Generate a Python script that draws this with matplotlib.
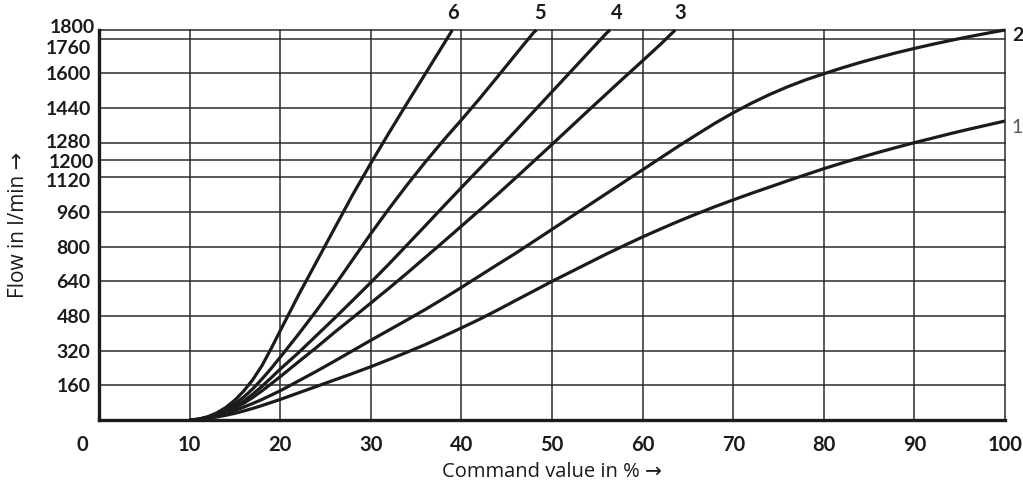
import matplotlib
matplotlib.use("Agg")
import matplotlib.pyplot as plt
import matplotlib.transforms as mtransforms

# flow curves, command value in % -> flow in l/min
x6 = [10, 11, 12, 13, 14, 15, 16, 17, 18, 19, 20, 22, 24, 26, 28, 30, 32, 34, 36, 38, 39]
y6 = [0, 4, 15, 33, 58, 92, 135, 188, 252, 330, 412, 575, 730, 885, 1040, 1185, 1325,
      1462, 1597, 1732, 1800]

x5 = [10, 11, 12, 13, 14, 15, 16, 17, 18, 19, 20, 22, 24, 26, 28, 30, 32, 34, 36, 38,
      40, 42, 44, 46, 48, 48.3]
y5 = [0, 4, 14, 29, 48, 75, 107, 145, 190, 238, 290, 395, 505, 620, 740, 860, 975,
      1085, 1190, 1290, 1385, 1483, 1585, 1688, 1790, 1800]

x4 = [10, 11, 12, 13, 14, 15, 16, 17, 18, 19, 20, 22, 24, 26, 28, 30, 32, 34, 36, 38,
      40, 42, 44, 46, 48, 50, 52, 54, 56, 56.4]
y4 = [0, 3, 12, 24, 40, 62, 88, 120, 156, 195, 235, 310, 390, 470, 552, 635, 720, 808,
      896, 985, 1073, 1160, 1247, 1335, 1425, 1515, 1605, 1695, 1785, 1800]

x3 = [10, 11, 12, 13, 14, 15, 16, 17, 18, 19, 20, 22, 24, 26, 28, 30, 32, 34, 36, 38,
      40, 42, 44, 46, 48, 50, 52, 54, 56, 58, 60, 62, 63.6]
y3 = [0, 3, 10, 21, 35, 55, 78, 105, 135, 167, 200, 268, 335, 405, 472, 540, 608, 678,
      750, 822, 895, 968, 1042, 1118, 1195, 1272, 1350, 1428, 1505, 1582, 1658, 1735, 1800]

x2 = [10, 11, 12, 13, 14, 15, 16, 17, 18, 19, 20, 22, 24, 26, 28, 30, 32, 34, 36, 38,
      40, 42, 44, 46, 48, 50, 52, 54, 56, 58, 60, 62, 64, 66, 68, 70, 72, 74, 76, 78,
      80, 82, 84, 86, 88, 90, 92, 94, 96, 98, 100]
y2 = [0, 3, 10, 19, 30, 44, 60, 77, 95, 115, 135, 180, 225, 272, 320, 368, 415, 462,
      510, 560, 612, 665, 718, 770, 825, 880, 935, 990, 1045, 1100, 1155, 1210, 1265,
      1318, 1370, 1418, 1462, 1502, 1538, 1570, 1598, 1625, 1650, 1673, 1695, 1715,
      1734, 1752, 1769, 1785, 1800]

x1 = [10, 11, 12, 13, 14, 15, 16, 17, 18, 19, 20, 22, 24, 26, 28, 30, 32, 34, 36, 38,
      40, 42, 44, 46, 48, 50, 52, 54, 56, 58, 60, 62, 64, 66, 68, 70, 72, 74, 76, 78,
      80, 82, 84, 86, 88, 90, 92, 94, 96, 98, 100]
y1 = [0, 3, 8, 14, 22, 31, 42, 54, 67, 81, 95, 125, 155, 185, 215, 246, 279, 313, 348,
      386, 425, 465, 508, 552, 596, 640, 682, 724, 766, 806, 845, 882, 918, 952, 985,
      1016, 1046, 1075, 1104, 1132, 1160, 1186, 1211, 1235, 1258, 1280, 1301, 1322,
      1342, 1361, 1380]

xticks = [0, 10, 20, 30, 40, 50, 60, 70, 80, 90, 100]
yticks = [160, 320, 480, 640, 800, 960, 1120, 1200, 1280, 1440, 1600, 1760, 1800]

num_font = ["Lato", "DejaVu Sans"]
txt_font = ["Open Sans", "DejaVu Sans"]
ink = "#1c1a1a"

fig = plt.figure(figsize=(10.23, 4.88), dpi=100)
ax = fig.add_axes([0.0968, 0.1393, 0.8856, 0.7992])
ax.set_xlim(0, 100)
ax.set_ylim(0, 1800)

# grid lines
for xv in xticks[1:]:
    ax.axvline(xv, color="#2b2b2b", lw=1.1, zorder=1, clip_on=False)
for yv in yticks:
    ax.axhline(yv, color="#2b2b2b", lw=1.1, zorder=1, clip_on=False)

curves = [(x1, y1), (x2, y2), (x3, y3), (x4, y4), (x5, y5), (x6, y6)]
for xs, ys in curves:
    ax.plot(xs, ys, color=ink, lw=2.3, zorder=3, clip_on=False,
            solid_joinstyle="round", solid_capstyle="butt")

for s in ["top", "right"]:
    ax.spines[s].set_visible(False)
for s in ["left", "bottom"]:
    ax.spines[s].set_linewidth(2.4)
    ax.spines[s].set_color(ink)

ax.set_xticks(xticks)
ax.set_yticks(yticks)
ax.tick_params(length=0)
ax.set_xticklabels([str(v) for v in xticks], fontsize=14.5, fontweight="bold",
                   family=num_font, color=ink)
ax.set_yticklabels([str(v) for v in yticks], fontsize=14, fontweight="bold",
                   family=num_font, color=ink)
ax.tick_params(axis="x", pad=11)
ax.tick_params(axis="y", pad=6)

# nudge a few labels like in the original drawing
def nudge(lab, dx, dy):
    lab.set_transform(lab.get_transform() +
                      mtransforms.ScaledTranslation(dx / 100, dy / 100, fig.dpi_scale_trans))

nudge(ax.get_xticklabels()[0], -17, 0)
ylabs = ax.get_yticklabels()
nudge(ylabs[-1], 4, 4)    # 1800
nudge(ylabs[-2], 0, -8)   # 1760
nudge(ylabs[8], 0, 2)     # 1280
nudge(ylabs[7], 3, -1)    # 1200
nudge(ylabs[6], 0, -3)    # 1120

# curve numbers
labels = ["6", "5", "4", "3"]
lab_x = [39.1, 48.7, 57.1, 64.1]
for t, xv in zip(labels, lab_x):
    ax.text(xv, 1880, t, ha="center", va="center", fontsize=14.5, fontweight="bold",
            family=num_font, color=ink, clip_on=False)
ax.text(100.75, 1775, "2", ha="left", va="center", fontsize=14, fontweight="bold",
        family=num_font, color=ink, clip_on=False)
ax.text(100.75, 1350, "1", ha="left", va="center", fontsize=14,
        family=num_font, color="#555555", clip_on=False)

ax.set_xlabel("Command value in % \u2192", fontsize=14.5, family=txt_font,
              color=ink, labelpad=5)
ax.set_ylabel("Flow in l/min \u2192", fontsize=15, family=txt_font,
              color=ink, labelpad=12)

fig.savefig("out.png", dpi=100)
